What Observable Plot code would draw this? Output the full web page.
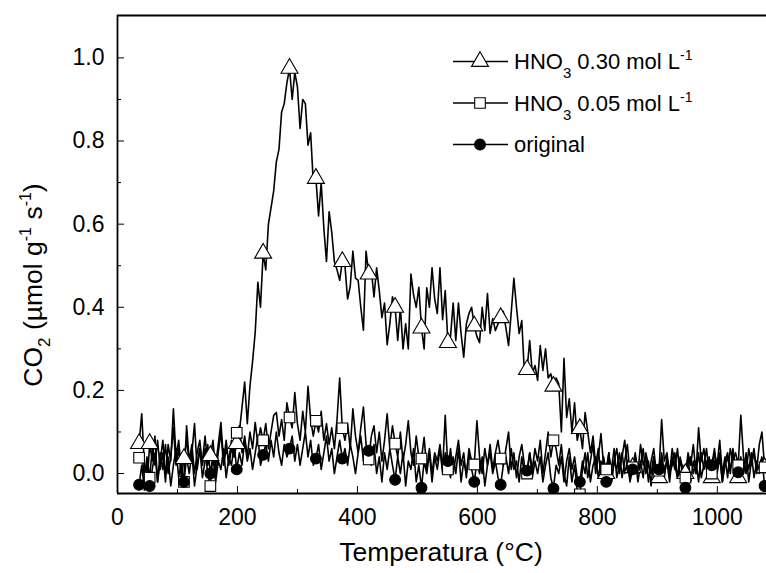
<!DOCTYPE html>
<html><head><meta charset="utf-8">
<script src="https://cdn.jsdelivr.net/npm/d3@7"></script>
<script src="https://cdn.jsdelivr.net/npm/@observablehq/plot@0.6"></script>
<style>body{margin:0;background:#fff;} svg{display:block}</style>
</head><body><div id="chart"></div>
<script>
// Temperature axis of the samples (°C): first sample and sampling step
const T_START = 36, T_STEP = 4.4;

// CO2 signal (µmol g-1 s-1), one value per sample
const hno3_030 = [
0.072,0.144,0.02,-0.03,0.072,0.03,0.09,-0.02,0.05,0.01,
0.07,0.00,0.04,0.11,0.02,0.06,-0.01,0.036,0.08,0.03,
0.05,0.12,0.01,0.06,0.03,0.09,0.02,0.043,0.08,0.0,
0.05,0.10,0.02,0.06,0.03,0.08,0.04,0.072,0.10,0.16,
0.22,0.12,0.21,0.27,0.34,0.46,0.40,0.53,0.49,0.60,
0.64,0.68,0.75,0.78,0.87,0.89,0.94,0.975,0.90,0.965,
0.93,0.83,0.90,0.89,0.79,0.82,0.70,0.71,0.62,0.70,
0.59,0.51,0.63,0.58,0.51,0.49,0.465,0.51,0.50,0.42,
0.45,0.535,0.47,0.465,0.40,0.345,0.535,0.48,0.49,0.425,
0.495,0.44,0.375,0.41,0.31,0.36,0.425,0.40,0.32,0.40,
0.30,0.36,0.30,0.48,0.43,0.40,0.448,0.35,0.30,0.447,
0.40,0.495,0.42,0.385,0.495,0.37,0.44,0.315,0.33,0.41,
0.32,0.41,0.337,0.28,0.36,0.385,0.40,0.355,0.33,0.315,
0.40,0.344,0.433,0.337,0.373,0.344,0.36,0.375,0.39,0.35,
0.308,0.387,0.47,0.40,0.337,0.368,0.24,0.25,0.32,0.24,
0.26,0.224,0.308,0.248,0.30,0.23,0.24,0.21,0.23,0.216,
0.10,0.277,0.135,0.18,0.10,0.17,0.08,0.108,0.06,0.147,
0.10,0.05,0.09,0.02,0.06,-0.01,0.04,0.0,0.05,-0.02,
0.03,0.01,0.05,-0.01,0.03,0.07,0.0,0.014,0.04,-0.02,
0.02,0.06,0.0,0.03,-0.03,0.04,0.01,-0.01,0.05,0.0,
0.03,-0.02,0.04,0.01,0.06,-0.01,0.02,0.0,0.04,-0.02,
0.03,0.0,0.05,-0.01,0.02,0.06,0.0,-0.01,0.03,0.01,
0.05,-0.02,0.02,0.04,0.0,0.06,0.01,-0.01,0.03,0.0,
0.04,0.01,0.05,-0.01,0.03,0.0,0.02,0.014];

const hno3_005 = [
0.038,0.05,-0.01,0.04,-0.01,0.06,0.02,0.08,0.01,0.05,
-0.02,0.07,0.03,0.156,0.04,0.08,0.01,-0.02,0.115,0.03,
0.07,0.0,0.05,0.08,0.02,0.06,0.0,-0.03,0.05,0.02,
0.07,0.123,0.03,0.08,0.02,0.06,0.04,0.098,0.115,0.05,
0.09,0.04,0.10,0.06,0.123,0.07,0.11,0.08,0.12,0.06,
0.10,0.14,0.147,0.09,0.13,0.08,0.17,0.135,0.11,0.195,
0.12,0.08,0.15,0.10,0.21,0.13,0.09,0.127,0.10,0.15,
0.08,0.12,0.07,0.11,0.06,0.13,0.23,0.109,0.08,0.12,
0.06,0.156,0.09,0.05,0.11,0.16,0.07,0.034,0.09,0.115,
0.05,0.10,0.03,0.08,0.144,0.06,0.115,0.072,0.04,0.10,
0.03,0.07,0.127,0.05,0.02,0.09,0.04,0.036,0.087,0.01,
0.06,0.0,0.05,0.03,0.07,0.01,0.14,0.01,0.06,0.0,
0.04,0.08,0.02,0.05,-0.01,0.06,0.03,0.022,0.127,0.04,
0.0,0.06,0.02,0.07,0.01,0.05,0.08,0.036,0.02,0.06,
0.10,0.01,0.05,-0.01,0.04,0.07,0.02,0.0,0.05,0.01,
0.06,0.03,0.08,0.0,0.05,0.10,0.04,0.08,0.06,0.02,
0.07,0.0,-0.03,0.04,-0.02,0.02,-0.04,-0.05,0.01,0.05,
-0.01,0.03,0.07,0.0,0.04,0.096,0.02,0.01,0.05,-0.02,
0.03,0.06,0.0,0.04,0.08,0.02,-0.01,0.015,0.05,0.0,
0.07,0.02,0.04,-0.02,0.03,0.06,0.0,0.007,0.13,0.03,
0.05,0.0,0.06,0.02,-0.01,0.04,0.01,-0.01,0.05,0.02,
0.07,0.0,0.11,0.03,0.06,0.01,0.04,0.0,0.05,0.02,
0.08,0.0,0.04,-0.01,0.06,0.03,0.05,0.02,0.14,0.04,
0.0,0.06,0.02,0.05,0.01,0.07,0.10,0.015];

const original = [
-0.027,0.02,-0.04,0.03,-0.03,0.01,0.05,-0.02,0.03,0.08,
0.0,0.04,-0.03,0.02,0.06,-0.01,0.03,-0.02,0.04,0.0,
0.05,-0.03,0.02,0.06,-0.01,0.03,0.07,0.0,0.04,-0.02,
0.03,0.01,0.06,-0.01,0.04,0.02,0.07,0.01,0.05,0.02,
0.08,0.03,0.06,0.01,0.05,0.09,0.02,0.045,0.07,0.03,
0.08,0.04,0.10,0.05,0.02,0.07,0.04,0.06,0.09,0.03,
0.07,0.02,0.06,0.10,0.04,0.08,0.02,0.036,0.07,0.01,
0.05,0.09,0.03,0.06,0.0,0.04,0.08,0.036,0.06,0.02,
0.07,0.04,0.0,0.05,0.09,0.03,0.06,0.055,0.02,0.07,
0.0,0.04,-0.02,0.05,0.01,0.06,0.02,-0.015,0.04,0.0,
0.05,-0.03,0.03,0.01,0.06,-0.02,0.02,-0.034,0.03,0.0,
0.05,-0.02,0.04,0.01,0.06,0.0,0.05,0.03,-0.01,0.04,
0.0,0.06,-0.02,0.03,0.0,0.05,0.01,-0.02,0.03,0.0,
0.04,-0.03,0.02,0.05,0.0,0.03,-0.01,-0.027,0.02,0.04,
0.0,0.06,0.01,0.03,-0.02,0.04,0.0,0.007,0.05,-0.01,
0.03,0.0,0.04,-0.02,0.02,0.05,-0.01,-0.036,0.02,0.0,
0.04,-0.02,0.03,0.06,0.01,0.04,-0.01,-0.02,0.03,0.0,
0.05,-0.02,0.02,0.04,-0.01,0.03,0.0,-0.02,0.04,0.01,
0.06,-0.01,0.02,0.05,0.0,0.03,-0.02,0.01,0.04,0.0,
0.03,-0.01,0.05,0.02,0.0,0.04,-0.02,0.01,0.03,-0.01,
0.04,0.0,0.02,0.05,-0.01,0.03,0.0,-0.034,0.02,0.04,
0.0,0.03,-0.02,0.05,0.01,0.03,-0.01,0.02,0.06,0.0,
0.04,-0.02,0.03,0.05,0.01,0.04,-0.01,0.003,0.04,0.0,
0.05,-0.02,0.03,0.06,0.0,0.02,0.04,-0.03];

const xTicks = [0, 200, 400, 600, 800, 1000];
const xMinor = [100, 300, 500, 700, 900];
const yTicks = [0.0, 0.2, 0.4, 0.6, 0.8, 1.0];
const yMinor = [0.1, 0.3, 0.5, 0.7, 0.9];
const X_DOMAIN = [0, 1082];
const Y_DOMAIN = [-0.048, 1.102];

const seriesKeys = ["hno3_030", "hno3_005", "original"];
const seriesLegend = [
  ["HNO", "3", " 0.30 mol L", "-1"],
  ["HNO", "3", " 0.05 mol L", "-1"],
  ["original", "", "", ""]
];
const seriesValues = [hno3_030, hno3_005, original];
const seriesSymbols = ["triangle", "square", "circle"];
const seriesFill = ["white", "white", "black"];
const seriesR = [6.3, 6.0, 5.4];

const FONT = "'Liberation Sans', Arial, Helvetica, sans-serif";

const rows = seriesKeys.flatMap((k, s) =>
  seriesValues[s].map((v, i) => ({key: k, s, i, T: T_START + T_STEP * i, v})));
const isMarker = i => i === 0 || i === 4 || (i >= 17 && (i - 17) % 10 === 0);

const plot = Plot.plot({
  width: 766, height: 573,
  marginLeft: 117, marginRight: 0, marginTop: 15, marginBottom: 80,
  style: {fontFamily: FONT, fontSize: "23px", color: "black", background: "white", overflow: "visible"},
  x: {domain: X_DOMAIN},
  y: {domain: Y_DOMAIN},
  marks: [
    Plot.line(rows, {x: "T", y: "v", z: "key", stroke: "black", strokeWidth: 1.6, clip: true}),
    ...seriesKeys.map((k, s) => Plot.dot(rows.filter(d => d.s === s && isMarker(d.i)), {
      x: "T", y: "v", symbol: seriesSymbols[s], r: seriesR[s],
      fill: seriesFill[s], stroke: "black", strokeWidth: 1.1, clip: true
    })),
    Plot.ruleX([X_DOMAIN[0]], {stroke: "black", strokeWidth: 1.8}),
    Plot.ruleY(Y_DOMAIN, {stroke: "black", strokeWidth: 1.8}),
    Plot.axisX(xTicks, {tickSize: -7, tickPadding: 22, label: null, tickFormat: d => String(d)}),
    Plot.axisX(xMinor, {tickSize: -4, tickFormat: () => "", label: null}),
    Plot.axisY(yTicks, {tickSize: -7, tickPadding: 20, label: null, tickFormat: d3.format(".1f")}),
    Plot.axisY(yMinor, {tickSize: -4, tickFormat: () => "", label: null})
  ]
});

document.getElementById("chart").appendChild(plot);
const svg = d3.select(plot);

// axis titles
svg.append("text")
  .attr("x", 441).attr("y", 561)
  .attr("text-anchor", "middle").attr("font-family", FONT).attr("font-size", 26.5)
  .attr("fill", "black")
  .text("Temperatura (°C)");

const yt = svg.append("text")
  .attr("transform", "translate(42,285) rotate(-90)")
  .attr("text-anchor", "middle").attr("font-family", FONT).attr("font-size", 26.5)
  .attr("fill", "black");
yt.append("tspan").text("CO");
yt.append("tspan").attr("font-size", 17).attr("dy", 8).text("2");
yt.append("tspan").attr("dy", -8).text(" (µmol g");
yt.append("tspan").attr("font-size", 16).attr("dy", -11).text("-1");
yt.append("tspan").attr("dy", 11).text(" s");
yt.append("tspan").attr("font-size", 16).attr("dy", -11).text("-1");
yt.append("tspan").attr("dy", 11).text(")");

// legend
const leg = svg.append("g").attr("font-family", FONT).attr("font-size", 22)
  .attr("fill", "black").attr("text-anchor", "start");
const symMap = {triangle: d3.symbolTriangle, square: d3.symbolSquare, circle: d3.symbolCircle};
seriesKeys.forEach((k, s) => {
  const cy = 61.5 + s * 41.5;
  leg.append("line").attr("x1", 453).attr("x2", 508).attr("y1", cy).attr("y2", cy)
    .attr("stroke", "black").attr("stroke-width", 1.3);
  leg.append("path").attr("transform", `translate(480,${cy})`)
    .attr("d", d3.symbol(symMap[seriesSymbols[s]], Math.PI * seriesR[s] * seriesR[s])())
    .attr("fill", seriesFill[s]).attr("stroke", "black").attr("stroke-width", 1.1);
  const [a, sub, b, sup] = seriesLegend[s];
  const t = leg.append("text").attr("x", 514).attr("y", cy + 7.5).attr("text-anchor", "start");
  t.append("tspan").text(a);
  if (sub) {
    t.append("tspan").attr("font-size", 15).attr("dy", 9).text(sub);
    t.append("tspan").attr("dy", -9).text(b);
    t.append("tspan").attr("font-size", 14).attr("dy", -9).text(sup);
  }
});
</script>
</body></html>
